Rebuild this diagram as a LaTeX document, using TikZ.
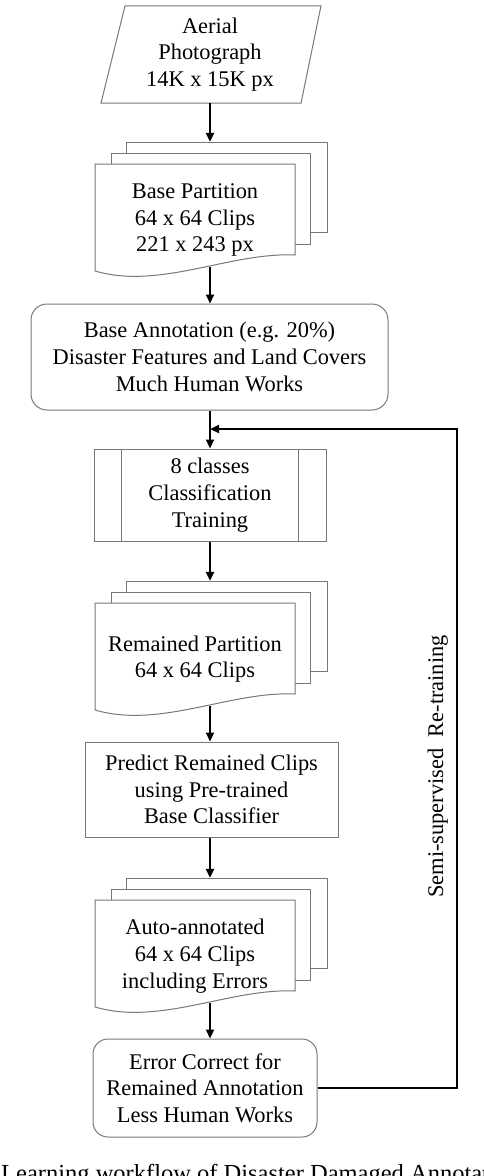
\documentclass[tikz,border=0pt]{standalone}
\usepackage{fontspec}
\setmainfont{Liberation Serif}
\usetikzlibrary{arrows.meta,calc}

\definecolor{rahmen}{RGB}{120,120,120}
\tikzset{
	sheet/.style={draw=rahmen,line width=1pt,fill=white},
	txt/.style={align=center,inner sep=0pt,font=\fontsize{22.4}{26.7}\selectfont},
	box/.style={txt,draw=rahmen,line width=1pt},
	pfeil/.style={draw=black,line width=2.2pt,-{Triangle[length=9pt,width=8pt]}},
	frame/.style={inner sep=0pt,minimum width=232pt,minimum height=125pt}
}

%Stapel aus drei Blaettern
\newcommand{\docstack}[3]{%
	\begin{scope}[shift={(0,#2)}]
		\draw[sheet] (126,-22) rectangle (327,68);
		\draw[sheet] (111,-11) rectangle (310,80);
		\draw[sheet] (95,0) -- (295,0) -- (295,91)
			.. controls (230,88) and (160,126) .. (95,107) -- cycle;
		\node[frame] (#1) at (210,40.5) {};
		\node[txt] (#1-text) at (195,56) {#3};
	\end{scope}}

\begin{document}
\begin{tikzpicture}[x=1pt,y=-1pt]
	\useasboundingbox (0,0) rectangle (484,1176);
	\clip (0,0) rectangle (484,1176);
%Luftbild
	\node[txt,minimum width=200pt,minimum height=97pt] (photo) at (210,54.5)
		{Aerial\\Photograph\\14K x 15K px};
	\draw[sheet,fill=none] ([xshift=-109pt]photo.south) -- ([xshift=91pt]photo.south)
		-- ([xshift=111pt]photo.north) -- ([xshift=-85pt]photo.north) -- cycle;
%Partition
	\docstack{part}{164}{Base Partition\\64 x 64 Clips\\221 x 243 px}
	\draw[pfeil] (photo.south) -- (part.north);
%Annotation
	\node[box,rounded corners=16pt,minimum width=357pt,minimum height=106pt] (annot)
		at (209.5,357)
		{Base Annotation (e.g. 20\%)\\Disaster Features and Land Covers\\Much Human Works};
	\draw[pfeil] (part.south) -- (part.south |- annot.north);
%Training
	\node[box,minimum width=232pt,minimum height=92pt] (train) at (210,495)
		{8 classes\\Classification\\Training};
	\draw[draw=rahmen,line width=1pt] ([xshift=28pt]train.north west)
		-- ([xshift=28pt]train.south west);
	\draw[draw=rahmen,line width=1pt] ([xshift=-28pt]train.north east)
		-- ([xshift=-28pt]train.south east);
	\draw[pfeil] (annot.south -| train.north) -- (train.north);
%Restliche Partition
	\docstack{rest}{603}{Remained Partition\\64 x 64 Clips}
	\draw[pfeil] (train.south) -- (rest.north);
%Vorhersage
	\node[box,minimum width=253pt,minimum height=95pt] (predict) at (211.5,789.5)
		{Predict Remained Clips\\using Pre-trained\\Base Classifier};
	\draw[pfeil] (rest.south) -- (rest.south |- predict.north);
%Auto-Annotation
	\docstack{auto}{900}{Auto-annotated\\64 x 64 Clips\\including Errors}
	\draw[pfeil] (predict.south -| auto.north) -- (auto.north);
%Korrektur
	\node[box,rounded corners=15pt,minimum width=224pt,minimum height=98pt] (errfix)
		at (205,1088)
		{Error Correct for\\Remained Annotation\\Less Human Works};
	\draw[pfeil] (auto.south) -- (auto.south |- errfix.north);
%Rueckfuehrung
	\coordinate (corner) at (457,429);
	\draw[pfeil] (errfix.east) -| (corner) -- (corner -| train.north);
	\node[txt,rotate=90,anchor=base] (retrain) at (443,766.5)
		{Semi-supervised\ \ Re-training};
%Unterschrift
	\node[anchor=base west,inner sep=0pt,font=\fontsize{24.5}{29}\selectfont] (caption)
		at (1,1181) {Learning workflow of Disaster Damaged Annotat};
\end{tikzpicture}
\end{document}
